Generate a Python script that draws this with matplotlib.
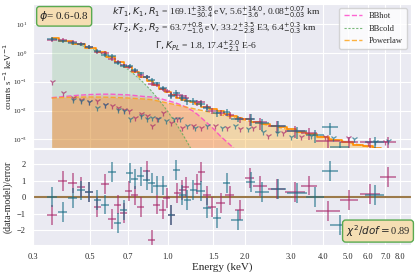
import numpy as np
import matplotlib
matplotlib.use('Agg')
import matplotlib.pyplot as plt
import seaborn as sns

# ---- model components (common energy grid, keV) ----
e_mod = [0.354, 0.40, 0.45, 0.50, 0.55, 0.60, 0.65, 0.70, 0.75, 0.80, 0.86, 0.90, 0.95, 1.0,
         1.05, 1.1, 1.15, 1.2, 1.25, 1.3, 1.4, 1.5, 1.6, 1.7, 1.8, 1.9, 2.0, 2.2, 2.4, 2.6,
         2.8, 3.0, 3.3, 3.6, 4.0, 4.5, 5.0, 5.5, 6.0, 6.5, 7.0, 7.5, 8.0, 8.8]
bbcold = [3.1, 2.6, 2.0, 1.45, 1.0, 0.65, 0.42, 0.27, 0.165, 0.098, 0.05, 0.031, 0.017, 0.0092,
          0.0049, 0.0026, 0.00135, 0.0007, 0.00036, 0.00018, 4.5e-5, 1e-5, 1e-6, 1e-6, 1e-6, 1e-6,
          1e-6, 1e-6, 1e-6, 1e-6, 1e-6, 1e-6, 1e-6, 1e-6, 1e-6, 1e-6, 1e-6, 1e-6, 1e-6, 1e-6,
          1e-6, 1e-6, 1e-6, 1e-6]
bbhot = [0.028, 0.031, 0.034, 0.036, 0.037, 0.037, 0.036, 0.035, 0.033, 0.031, 0.0297, 0.028,
         0.025, 0.022, 0.0195, 0.017, 0.0145, 0.012, 0.0097, 0.0075, 0.0042, 0.0024, 0.0013,
         0.0008, 0.0005, 0.0003, 0.00018, 6e-5, 2e-5, 1e-6, 1e-6, 1e-6, 1e-6, 1e-6, 1e-6, 1e-6,
         1e-6, 1e-6, 1e-6, 1e-6, 1e-6, 1e-6, 1e-6, 1e-6]
powerlaw = [0.027, 0.0285, 0.0292, 0.0295, 0.0293, 0.0288, 0.028, 0.0272, 0.0262, 0.0252, 0.024,
            0.0222, 0.0200, 0.0181, 0.0165, 0.0151, 0.0138, 0.0127, 0.0118, 0.0109, 0.0095,
            0.0082, 0.0072, 0.0064, 0.0057, 0.0051, 0.0046, 0.0038, 0.0032, 0.0028, 0.0024,
            0.0021, 0.00175, 0.00148, 0.0012, 0.00096, 0.00078, 0.00065, 0.00055, 0.00047,
            0.00041, 0.00036, 0.00031, 0.00026]
total = [3.2, 2.6, 2.05, 1.5, 1.08, 0.74, 0.5, 0.33, 0.22, 0.15, 0.105, 0.08, 0.058, 0.043,
         0.034, 0.028, 0.024, 0.021, 0.019, 0.017, 0.0135, 0.011, 0.0093, 0.0078, 0.0066, 0.0057,
         0.005, 0.0041, 0.0035, 0.003, 0.0026, 0.0022, 0.0018, 0.0015, 0.0012, 0.00095, 0.00078,
         0.00065, 0.00057, 0.0005, 0.00045, 0.0004, 0.00036, 0.00032]

# ---- spectrum 1 (magenta) ----
mag_e = [0.354, 0.391, 0.427, 0.460, 0.494, 0.533, 0.570, 0.607, 0.638, 0.673, 0.706, 0.745,
         0.786, 0.827, 0.865, 0.906, 0.954, 0.991, 1.033, 1.090, 1.140, 1.174, 1.304, 1.351,
         1.416, 1.490, 1.605, 1.738, 1.901, 2.08, 2.29, 2.66, 3.13, 3.55, 4.21, 5.07, 6.12, 7.18]
mag_de = [0.016, 0.016, 0.016, 0.016, 0.017, 0.018, 0.019, 0.02, 0.02, 0.021, 0.022, 0.023,
          0.024, 0.025, 0.026, 0.027, 0.028, 0.03, 0.032, 0.034, 0.036, 0.038, 0.04, 0.045,
          0.05, 0.055, 0.06, 0.07, 0.08, 0.08, 0.14, 0.2, 0.28, 0.25, 0.46, 0.4, 0.56, 0.5]
mag_cts = [2.9, 2.85, 2.45, 2.05, 1.65, 1.12, 0.98, 0.62, 0.50, 0.37, 0.33, 0.235, 0.165, 0.145,
           0.085, 0.078, 0.058, 0.049, 0.036, 0.036, 0.031, 0.028, 0.019, 0.019, 0.0135, 0.0098,
           0.0083, 0.0070, 0.0049, 0.0052, 0.0039, 0.0029, 0.0020, 0.0017, 0.00085, 0.00080,
           0.00078, 0.00080]
mag_res = [-1.1, 0.95, 0.85, 0.6, 0.3, -0.6, 0.8, -1.3, -0.45, -0.95, 0.35, 0.1, -0.6, 1.6,
           -2.6, -0.45, -0.75, -0.05, -1.1, 0.25, 0.45, 0.6, 0.8, 1.5, 0.1, -0.6, -0.35, 0.1,
           -0.8, 1.15, 0.65, 0.5, 0.3, 0.7, -0.85, -0.2, 0.2, 1.2]

# ---- spectrum 2 (teal) ----
teal_e = [0.354, 0.391, 0.427, 0.460, 0.494, 0.533, 0.570, 0.607, 0.638, 0.673, 0.712, 0.745,
          0.786, 0.827, 0.865, 0.906, 0.962, 1.033, 1.081, 1.140, 1.192, 1.258, 1.342, 1.425,
          1.557, 1.693, 1.867, 2.10, 2.33, 2.69, 3.18, 3.74, 4.28, 4.67, 6.4]
teal_de = [0.016, 0.016, 0.016, 0.016, 0.017, 0.018, 0.019, 0.02, 0.02, 0.021, 0.022, 0.023,
           0.024, 0.025, 0.026, 0.027, 0.028, 0.032, 0.034, 0.036, 0.038, 0.04, 0.05, 0.05,
           0.06, 0.05, 0.1, 0.08, 0.15, 0.18, 0.28, 0.3, 0.3, 0.4, 0.55]
teal_cts = [3.15, 2.55, 2.3, 2.0, 1.62, 1.18, 0.88, 0.78, 0.44, 0.36, 0.36, 0.26, 0.195, 0.145,
            0.115, 0.088, 0.062, 0.033, 0.042, 0.028, 0.021, 0.021, 0.017, 0.012, 0.0082, 0.0088,
            0.0052, 0.0052, 0.0036, 0.0029, 0.0019, 0.0014, 0.0026, 0.00055, 0.0008]
teal_res = [0.0, -0.9, -0.05, 0.4, 0.3, -0.15, -0.45, 1.5, -1.55, -0.8, 1.45, 1.1, 1.25, 1.05,
            0.85, 0.7, 0.7, -1.1, 1.65, 0.15, -0.15, 0.45, 0.35, -0.65, -1.25, 0.85, -1.4, 0.9,
            0.3, 0.5, 0.25, 0.0, 1.6, -1.7, 0.15]

# ---- background spectra ----
mag_bkg_e = [0.354, 0.391, 0.427, 0.460, 0.494, 0.533, 0.570, 0.607, 0.638, 0.673, 0.706, 0.745,
             0.786, 0.827, 0.865, 0.906, 0.954, 1.03, 1.09, 1.14, 1.25, 1.35, 1.52, 1.70, 1.90,
             2.15, 2.45, 2.8, 3.3, 4.1, 5.0, 6.0, 7.0]
mag_bkg = [0.10, 0.041, 0.028, 0.024, 0.0195, 0.021, 0.016, 0.014, 0.0123, 0.0108, 0.0095, 0.0053,
           0.0073, 0.0062, 0.0029, 0.0049, 0.0084, 0.0038, 0.0052, 0.0025, 0.0029, 0.0025, 0.0029,
           0.0025, 0.0022, 0.0025, 0.0013, 0.0017, 0.0012, 0.0012, 0.0011, 0.00077, 0.0008]
teal_bkg_e = [0.427, 0.460, 0.494, 0.533, 0.570, 0.638, 0.673, 0.712, 0.786, 0.827, 0.865, 0.92,
              0.98, 1.06, 1.12, 1.19, 1.28, 1.42, 1.62, 1.82, 2.05, 2.35, 2.65, 3.0, 3.6, 4.4,
              5.3, 6.4, 7.2]
teal_bkg = [0.024, 0.021, 0.019, 0.0123, 0.015, 0.0108, 0.0095, 0.0049, 0.0064, 0.0049, 0.0056,
            0.0052, 0.0042, 0.0052, 0.0049, 0.0028, 0.0025, 0.0029, 0.0025, 0.0029, 0.0022,
            0.0018, 0.0016, 0.0012, 0.0013, 0.0011, 0.0010, 0.0008, 0.0009]

xticks = [0.3, 0.5, 0.7, 1.0, 1.5, 2.0, 3.0, 4.0, 5.0, 6.0, 7.0, 8.0]

c_mag = '#a8286a'
c_teal = '#1d7088'

sns.set_style('darkgrid')
plt.rcParams['font.family'] = ['Liberation Serif', 'DejaVu Serif']
plt.rcParams['mathtext.fontset'] = 'dejavusans'

fig = plt.figure(figsize=(4.15, 2.72), dpi=100)
gs = fig.add_gridspec(2, 1, height_ratios=[3, 2], hspace=0.01,
                      left=0.08, right=0.99, top=0.985, bottom=0.099)
ax = fig.add_subplot(gs[0])
axr = fig.add_subplot(gs[1], sharex=ax)

floor = 1e-6
ax.fill_between(e_mod, floor, bbcold, color='#2ca02c', alpha=0.15, lw=0, zorder=1)
ax.fill_between(e_mod, floor, powerlaw, color='#ffa500', alpha=0.3, lw=0, zorder=1)
ax.fill_between(e_mod, floor, bbhot, color='#ff3030', alpha=0.15, lw=0, zorder=1)
ax.plot(e_mod, bbhot, ls='--', color='#ff40c8', lw=1.0, alpha=0.8, label='BBhot', zorder=2)
ax.plot(e_mod, bbcold, ls='--', dashes=(2, 1.5), color='#5aaa5a', lw=0.8, alpha=0.8,
        label='BBcold', zorder=2)
ax.plot(e_mod, powerlaw, ls='--', color='#ffa010', lw=1.0, alpha=0.8, label='Powerlaw', zorder=2)
ax.step(e_mod, total, where='mid', color='#ff8c00', lw=1.2, zorder=3)

mag_cts_a = np.array(mag_cts)
teal_cts_a = np.array(teal_cts)
mag_rel = np.where(np.array(mag_e) < 1.0, 0.15, np.where(np.array(mag_e) < 2.0, 0.25, 0.45))
teal_rel = np.where(np.array(teal_e) < 1.0, 0.15, np.where(np.array(teal_e) < 2.0, 0.25, 0.45))

ax.errorbar(mag_e, mag_cts, xerr=mag_de, yerr=mag_cts_a * mag_rel, fmt='none',
            ecolor=c_mag, elinewidth=1.3, alpha=0.6, zorder=4)
ax.errorbar(teal_e, teal_cts, xerr=teal_de, yerr=teal_cts_a * teal_rel, fmt='none',
            ecolor=c_teal, elinewidth=1.3, alpha=0.6, zorder=4)
ax.plot(mag_bkg_e, mag_bkg, ls='none', marker='1', ms=4.5, mew=0.9, color=c_mag, alpha=0.7, zorder=4)
ax.plot(teal_bkg_e, teal_bkg, ls='none', marker='1', ms=4.5, mew=0.9, color=c_teal, alpha=0.7, zorder=4)

ax.set_xscale('log')
ax.set_yscale('log')
ax.set_xlim(0.3, 8.8)
ax.set_ylim(5e-4, 50)
ax.set_ylabel(r'counts s$^{-1}$ keV$^{-1}$', fontsize=6.5)
ax.yaxis.set_label_coords(-0.052, 0.5)
ax.tick_params(axis='y', labelsize=5, pad=1)
ax.tick_params(axis='x', labelbottom=False)
ax.grid(which='minor', visible=False)

leg = ax.legend(loc='upper right', fontsize=6, handlelength=2.2, frameon=True,
                borderpad=0.5, labelspacing=0.5)
leg.get_frame().set_facecolor('white')
leg.get_frame().set_alpha(0.8)

ax.text(0.082, 0.915, r'$\phi$= 0.6-0.8', transform=ax.transAxes, fontsize=8,
        ha='center', va='center',
        bbox=dict(boxstyle='round,pad=0.25', facecolor='#f5deb3', edgecolor='#5aaa50', lw=1))
ax.text(0.209, 0.944, r'$kT_1, K_1, R_1$ = 169.1$^{+33.6}_{-30.4}$ eV, 5.6$^{+14.0}_{-3.6}$, 0.08$^{+0.07}_{-0.03}$ km',
        transform=ax.transAxes, fontsize=6.8, ha='left', va='center')
ax.text(0.209, 0.833, r'$kT_2, K_2, R_2$ = 63.7$^{+0.8}_{-1.0}$ eV, 33.2$^{+3.5}_{-2.8}$ E3, 6.4$^{+0.3}_{-0.3}$ km',
        transform=ax.transAxes, fontsize=6.8, ha='left', va='center')
ax.text(0.323, 0.708, r'$\Gamma, K_{PL}$ = 1.8, 17.4$^{+2.0}_{-2.1}$ E-6',
        transform=ax.transAxes, fontsize=6.8, ha='left', va='center')

# residuals
res_err = 0.6
axr.errorbar(mag_e, mag_res, xerr=mag_de, yerr=res_err, fmt='none',
             ecolor=c_mag, elinewidth=1.3, alpha=0.6)
axr.errorbar(teal_e, teal_res, xerr=teal_de, yerr=res_err, fmt='none',
             ecolor=c_teal, elinewidth=1.3, alpha=0.6)
axr.axhline(0, color='#9c7a4a', lw=1.5, zorder=1)
axr.set_ylim(-2.9, 2.9)
axr.set_yticks([-2, -1, 0, 1, 2])
axr.set_xticks(xticks)
axr.set_xticklabels([f'{t:.1f}' for t in xticks])
axr.xaxis.set_minor_locator(matplotlib.ticker.NullLocator())
axr.tick_params(axis='both', labelsize=6, pad=2)
axr.set_xlabel('Energy (keV)', fontsize=8, labelpad=1)
axr.set_ylabel('(data-model)/error', fontsize=7)
axr.yaxis.set_label_coords(-0.055, 0.5)
axr.text(0.913, 0.146, r'$\chi^2/dof = $0.89', transform=axr.transAxes, fontsize=7.5,
         ha='center', va='center',
         bbox=dict(boxstyle='round,pad=0.3', facecolor='#f5deb3', edgecolor='#5aaa50', lw=1))

fig.savefig('out.png', dpi=100)
